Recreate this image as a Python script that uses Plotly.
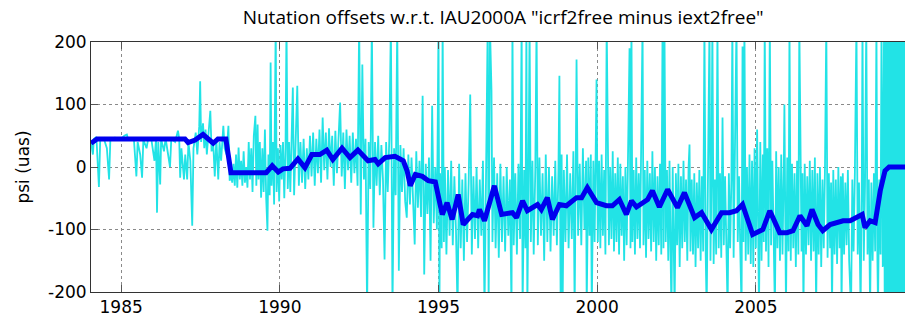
import plotly.graph_objects as go

title_text = 'Nutation offsets w.r.t. IAU2000A "icrf2free minus iext2free"'
y_label = "psi (uas)"
x_ticks = [1985, 1990, 1995, 2000, 2005]
y_ticks = [-200, -100, 0, 100, 200]

# ---- raw session values (cyan), (epoch, psi) ----
cyan_1984_1988 = [
    (1984.05, 40), (1984.08, 30), (1984.11, 20), (1984.14, 45), (1984.22, 48), (1984.30, -32),
    (1984.34, 42), (1984.45, 46), (1984.55, 30), (1984.62, -20), (1984.66, 44), (1984.80, 47),
    (1985.00, 45), (1985.10, 50), (1985.18, 52), (1985.22, 44), (1985.40, 46), (1985.48, -15),
    (1985.52, 40), (1985.60, 20), (1985.66, -17), (1985.70, 44), (1985.80, 30), (1985.84, 42),
    (1985.95, 45), (1986.05, 10), (1986.10, 46), (1986.13, -73), (1986.17, 40), (1986.23, -28),
    (1986.26, 45), (1986.35, 25), (1986.40, 46), (1986.54, 0), (1986.58, 45), (1986.70, 40),
    (1986.79, 58), (1986.83, 45), (1986.86, -17), (1986.90, 30), (1986.98, -20), (1987.02, 20),
    (1987.08, -20), (1987.12, 40), (1987.18, 10), (1987.24, -94), (1987.28, 30), (1987.35, 55),
    (1987.40, 20), (1987.46, 65), (1987.49, 137), (1987.52, 40), (1987.58, 70), (1987.62, 30),
    (1987.66, 60), (1987.70, 20), (1987.75, 55), (1987.81, 90), (1987.85, 25), (1987.90, 40),
    (1987.95, -15), (1988.00, 45), (1988.06, -20), (1988.10, 40), (1988.15, 10), (1988.22, 66),
    (1988.26, 30), (1988.32, 20), (1988.38, 66), (1988.42, -22), (1988.46, -10),
]
cyan_1988_1990 = [
    (1988.50, -25), (1988.54, 5), (1988.58, -30), (1988.62, 20), (1988.66, -33), (1988.70, 31),
    (1988.74, -20), (1988.78, 10), (1988.82, -30), (1988.86, 25), (1988.90, -25), (1988.94, 0),
    (1988.98, -33), (1989.02, 40), (1989.06, -20), (1989.10, 30), (1989.14, -40), (1989.18, 50),
    (1989.23, 82), (1989.26, -30), (1989.30, 68), (1989.33, -20), (1989.37, 40), (1989.41, -49),
    (1989.45, 30), (1989.49, -40), (1989.53, 60), (1989.57, -50), (1989.61, -102), (1989.64, 20),
    (1989.68, -45), (1989.71, 167), (1989.74, -30), (1989.78, 40), (1989.82, -60), (1989.87, 230),
    (1989.90, -40), (1989.94, 30), (1989.98, -55), (1990.02, 35), (1990.06, -20), (1990.10, 40),
    (1990.14, -50), (1990.18, 30), (1990.21, 230), (1990.25, -35), (1990.29, 40), (1990.33, -40),
    (1990.37, 35), (1990.41, 127),
]
cyan_1990_1995 = [
    (1990.45, -45), (1990.50, 35), (1990.55, 130), (1990.60, -30), (1990.65, 40), (1990.70, -25),
    (1990.75, 45), (1990.80, -35), (1990.85, 30), (1990.90, -20), (1990.95, 50), (1991.00, -15),
    (1991.05, 55), (1991.10, -30), (1991.15, 45), (1991.20, -10), (1991.25, 60), (1991.30, -25),
    (1991.35, 79), (1991.40, -5), (1991.45, 55), (1991.50, -20), (1991.55, 62), (1991.60, 0),
    (1991.65, 50), (1991.70, -30), (1991.75, 58), (1991.80, -10), (1991.85, 60), (1991.90, 103),
    (1991.95, -15), (1992.00, 55), (1992.05, -35), (1992.10, 60), (1992.15, -5), (1992.20, 50),
    (1992.25, -25), (1992.30, 55), (1992.35, -10), (1992.40, 45), (1992.45, -30), (1992.50, 230),
    (1992.55, -76), (1992.60, 164), (1992.65, -20), (1992.70, 45), (1992.75, -230), (1992.80, 40),
    (1992.85, -35), (1992.90, 230), (1992.95, -97), (1993.00, 40), (1993.05, -30), (1993.10, 50),
    (1993.15, -45), (1993.20, 35), (1993.25, -20), (1993.30, -148), (1993.35, 40), (1993.40, -40),
    (1993.45, 45), (1993.50, 230), (1993.55, -230), (1993.60, 30), (1993.65, -45), (1993.70, 230),
    (1993.75, -166), (1993.80, 35), (1993.85, -40), (1993.90, 30), (1993.95, -55), (1994.00, -81),
    (1994.05, 20), (1994.10, -60), (1994.15, 15), (1994.20, -70), (1994.25, -124), (1994.30, 25),
    (1994.35, -65), (1994.40, 10), (1994.45, -80), (1994.50, 114), (1994.55, -172), (1994.60, 5),
    (1994.65, -75), (1994.70, 15), (1994.75, -150), (1994.80, 98), (1994.85, -90), (1994.90, 0),
    (1994.95, -100), (1995.00, 230), (1995.03, -230),
]
cyan_1995_2000 = [
    (1995.05, -10), (1995.10, -130), (1995.13, 230), (1995.17, -120), (1995.20, 0), (1995.25, -140),
    (1995.30, -5), (1995.35, -110), (1995.40, 10), (1995.45, -125), (1995.50, -15), (1995.55, -100),
    (1995.60, -230), (1995.65, 5), (1995.70, -130), (1995.75, -20), (1995.80, -150), (1995.85, -10),
    (1995.90, -120), (1995.95, -25), (1996.00, 116), (1996.05, -140), (1996.10, -15), (1996.15, -115),
    (1996.20, 0), (1996.25, -130), (1996.30, -20), (1996.35, -110), (1996.40, 10), (1996.45, -230),
    (1996.50, -5), (1996.55, 230), (1996.58, -230), (1996.62, 230), (1996.67, 122), (1996.70, -120),
    (1996.75, 15), (1996.80, -130), (1996.85, -10), (1996.90, -145), (1996.95, 5), (1997.00, -120),
    (1997.05, -15), (1997.10, -135), (1997.15, 0), (1997.20, -110), (1997.25, -20), (1997.30, -230),
    (1997.33, 230), (1997.37, -125), (1997.42, -10), (1997.47, -140), (1997.52, 5), (1997.57, -115),
    (1997.62, 230), (1997.65, -230), (1997.70, -5), (1997.74, -130), (1997.77, 230), (1997.80, -230),
    (1997.84, 0), (1997.87, 230), (1997.91, -120), (1997.96, 10), (1998.00, -140), (1998.05, -5),
    (1998.09, 230), (1998.13, -125), (1998.18, 15), (1998.23, -110), (1998.28, -10), (1998.33, -150),
    (1998.38, 20), (1998.43, -120), (1998.48, 0), (1998.53, -135), (1998.58, -15), (1998.63, -110),
    (1998.68, 10), (1998.73, -125), (1998.78, -5), (1998.81, 146), (1998.85, -230), (1998.88, 20),
    (1998.91, -230), (1998.95, -5), (1999.00, -120), (1999.05, 20), (1999.10, -130), (1999.15, -10),
    (1999.20, -115), (1999.25, 25), (1999.29, -230), (1999.35, 172), (1999.40, -110), (1999.45, 5),
    (1999.50, -125), (1999.55, 30), (1999.60, -100), (1999.65, 10), (1999.67, -230), (1999.72, 15),
    (1999.76, -110), (1999.80, 20), (1999.83, -230), (1999.88, 10), (1999.92, -120), (1999.95, 0),
    (1999.98, 140),
]
cyan_2000_2005 = [
    (2000.02, -120), (2000.06, 10), (2000.10, -130), (2000.14, 20), (2000.18, -110), (2000.22, -5),
    (2000.26, -140), (2000.30, 230), (2000.33, 76), (2000.37, -125), (2000.41, 0), (2000.45, -115),
    (2000.49, 25), (2000.53, -135), (2000.57, -10), (2000.61, -120), (2000.65, 15), (2000.69, -140),
    (2000.73, 5), (2000.77, -110), (2000.81, -15), (2000.85, -150), (2000.89, 0), (2000.93, -125),
    (2000.97, 10), (2001.02, 190), (2001.05, -130), (2001.08, 230), (2001.11, -120), (2001.15, -5),
    (2001.19, -140), (2001.23, 15), (2001.27, -115), (2001.31, -10), (2001.35, -130), (2001.39, 20),
    (2001.43, 230), (2001.46, -125), (2001.50, -5), (2001.54, -145), (2001.58, 10), (2001.62, -115),
    (2001.66, -10), (2001.70, -135), (2001.74, 25), (2001.78, -120), (2001.82, 0), (2001.86, -150),
    (2001.90, -15), (2001.94, -125), (2001.98, 5), (2002.02, -140), (2002.06, 230), (2002.09, -130),
    (2002.12, 230), (2002.16, -120), (2002.20, -5), (2002.24, -150), (2002.28, 10), (2002.31, -130),
    (2002.34, -230), (2002.38, 0), (2002.41, -140), (2002.44, -230), (2002.48, -10), (2002.52, -125),
    (2002.56, 5), (2002.60, -160), (2002.64, -15), (2002.68, -130), (2002.72, 10), (2002.76, -120),
    (2002.80, -20), (2002.84, -150), (2002.88, 0), (2002.91, 36), (2002.94, -135), (2002.98, -20),
    (2003.02, -140), (2003.06, -10), (2003.10, -160), (2003.14, -25), (2003.18, -130), (2003.22, -5),
    (2003.26, -150), (2003.30, -15), (2003.34, -135), (2003.38, 230), (2003.42, -140), (2003.45, -230),
    (2003.49, -20), (2003.54, 230), (2003.57, -150), (2003.60, -30), (2003.63, 230), (2003.67, -155),
    (2003.71, -20), (2003.75, -140), (2003.79, 230), (2003.83, -130), (2003.87, -10), (2003.91, -145),
    (2003.95, 79), (2003.99, -125), (2004.03, -15), (2004.07, -140), (2004.11, -230), (2004.15, -10),
    (2004.19, -130), (2004.23, -20), (2004.26, 230), (2004.30, -145), (2004.34, -5), (2004.39, 230),
    (2004.43, -120), (2004.47, -15), (2004.51, -135), (2004.55, -230), (2004.58, 193), (2004.61, -120),
    (2004.64, 230), (2004.68, -150), (2004.72, 0), (2004.76, -140), (2004.80, 20), (2004.84, -155),
    (2004.88, 10), (2004.92, -160), (2004.96, 30),
]
cyan_2005_2009 = [
    (2005.00, -130), (2005.04, 60), (2005.08, -140), (2005.10, -230), (2005.14, 40), (2005.18, -150),
    (2005.22, 20), (2005.25, -120), (2005.28, 230), (2005.32, -135), (2005.36, 30), (2005.40, -160),
    (2005.44, 230), (2005.48, -125), (2005.52, 10), (2005.56, -145), (2005.60, -230), (2005.64, 25),
    (2005.68, -130), (2005.72, 0), (2005.76, -150), (2005.80, 20), (2005.84, -140), (2005.88, -5),
    (2005.90, 100), (2005.95, -230), (2005.99, 15), (2006.03, -135), (2006.06, 230), (2006.10, -150),
    (2006.14, 5), (2006.18, -130), (2006.22, -10), (2006.26, -160), (2006.30, 10), (2006.34, -140),
    (2006.37, 230), (2006.40, 76), (2006.44, -135), (2006.47, -10), (2006.50, -230), (2006.54, 5),
    (2006.58, -140), (2006.62, -15), (2006.66, -125), (2006.70, 10), (2006.74, -150), (2006.78, -5),
    (2006.82, -135), (2006.86, 15), (2006.90, -230), (2006.94, -10), (2006.98, -140), (2007.02, 0),
    (2007.06, -160), (2007.10, -20), (2007.14, -130), (2007.18, 5), (2007.22, 230), (2007.26, -145),
    (2007.30, -10), (2007.34, -130), (2007.37, -25), (2007.40, -230), (2007.44, -5), (2007.48, -140),
    (2007.52, -20), (2007.56, -155), (2007.60, 0), (2007.64, -130), (2007.68, -15), (2007.70, -230),
    (2007.74, -10), (2007.78, -140), (2007.82, -25), (2007.86, -125), (2007.90, -5), (2007.94, -150),
    (2008.00, -230), (2008.04, -20), (2008.08, -135), (2008.12, -10), (2008.17, 230), (2008.21, -140),
    (2008.25, -25), (2008.30, -230), (2008.34, -15), (2008.36, 230), (2008.40, -150), (2008.44, -30),
    (2008.48, 230), (2008.52, -140), (2008.56, -20), (2008.60, -230), (2008.64, -25), (2008.68, -150),
    (2008.72, -10), (2008.76, -135), (2008.80, 230), (2008.83, -145), (2008.85, -230), (2008.89, -20),
    (2008.93, -140), (2008.96, 230), (2009.00, -160), (2009.04, 230),
]
cyan_2009_end = [
    (2009.06, -230), (2009.08, 230), (2009.10, -230), (2009.12, 230), (2009.14, -230), (2009.16, 230),
    (2009.18, -230), (2009.20, 230), (2009.22, -230), (2009.24, 230), (2009.26, -230), (2009.28, 230),
    (2009.30, -230), (2009.32, 230), (2009.34, -230), (2009.36, 230), (2009.38, -230), (2009.40, 230),
    (2009.42, -230), (2009.44, 230), (2009.46, -230), (2009.48, 230), (2009.50, -230), (2009.52, 230),
    (2009.54, -230), (2009.56, 230), (2009.58, -230), (2009.60, 230), (2009.62, -230), (2009.64, 230),
    (2009.66, -230), (2009.68, 230), (2009.70, -230), (2009.72, 230),
]

# ---- smoothed series (blue), (epoch, psi) ----
smooth = [
    (1984.05, 38), (1984.24, 45), (1987.01, 45), (1987.11, 39), (1987.33, 43), (1987.58, 52),
    (1987.90, 38), (1988.05, 45), (1988.30, 45), (1988.46, -9), (1989.57, -9), (1989.76, 2),
    (1989.95, -8), (1990.10, -3), (1990.32, -2), (1990.57, 13), (1990.79, -1), (1991.01, 20),
    (1991.26, 20), (1991.48, 27), (1991.67, 12), (1991.96, 30), (1992.21, 15), (1992.46, 27),
    (1992.78, 10), (1993.00, 12), (1993.10, 5), (1993.32, 15), (1993.63, 17), (1993.89, 10),
    (1994.01, -6), (1994.11, -30), (1994.27, -12), (1994.49, -15), (1994.68, -22), (1994.90, -24),
    (1995.05, -60), (1995.12, -76), (1995.27, -57), (1995.43, -84), (1995.62, -44), (1995.78, -92),
    (1996.07, -76), (1996.23, -78), (1996.29, -68), (1996.45, -86), (1996.76, -30), (1996.99, -76),
    (1997.33, -73), (1997.46, -81), (1997.65, -54), (1997.80, -70), (1998.12, -60), (1998.24, -68),
    (1998.43, -49), (1998.59, -84), (1998.81, -60), (1999.03, -62), (1999.35, -49), (1999.51, -49),
    (1999.69, -33), (1999.98, -57), (2000.29, -62), (2000.48, -62), (2000.70, -52), (2000.92, -76),
    (2001.08, -54), (2001.24, -64), (2001.59, -52), (2001.74, -38), (2001.96, -64), (2002.22, -36),
    (2002.53, -65), (2002.75, -41), (2003.07, -81), (2003.29, -73), (2003.60, -100), (2003.92, -73),
    (2004.17, -73), (2004.39, -70), (2004.58, -60), (2004.90, -108), (2005.22, -100), (2005.44, -70),
    (2005.75, -105), (2005.98, -105), (2006.17, -102), (2006.39, -78), (2006.61, -94), (2006.77, -68),
    (2006.96, -92), (2007.11, -102), (2007.34, -92), (2007.75, -86), (2007.97, -86), (2008.19, -81),
    (2008.35, -76), (2008.44, -97), (2008.60, -86), (2008.76, -89), (2008.92, -38), (2009.07, -6),
    (2009.20, 0), (2009.70, 0),
]

cyan = (cyan_1984_1988 + cyan_1988_1990 + cyan_1990_1995 + cyan_1995_2000
        + cyan_2000_2005 + cyan_2005_2009 + cyan_2009_end)
ct, cv = zip(*cyan)
st, sv = zip(*smooth)

fig = go.Figure()
fig.add_trace(go.Scatter(x=ct, y=cv, mode="lines",
                         line=dict(color="#22E3E6", width=1.8), hoverinfo="skip"))
fig.add_trace(go.Scatter(x=st, y=sv, mode="lines",
                         line=dict(color="#0000EE", width=5), hoverinfo="skip"))

axis_font = dict(family="DejaVu Sans", size=17, color="#000000")
fig.update_layout(
    width=905, height=321,
    margin=dict(l=91, r=0, t=42, b=29),
    paper_bgcolor="white", plot_bgcolor="white",
    showlegend=False,
    title=dict(text=title_text, x=0.556, xanchor="center", y=0.945, yanchor="middle",
               font=dict(family="Open Sans", size=19, color="#000000")),
    font=axis_font,
)
fig.update_xaxes(
    range=[1984.05, 2009.70], tickvals=x_ticks, ticktext=[str(v) for v in x_ticks],
    showgrid=True, gridcolor="#8a8a8a", griddash="dot", gridwidth=1,
    zeroline=False, showline=True, linecolor="#333333", linewidth=1, mirror="ticks",
    ticks="inside", ticklen=7, tickcolor="#555555", tickfont=axis_font,
)
fig.update_yaxes(
    range=[-200, 200], tickvals=y_ticks, ticktext=[str(v) for v in y_ticks],
    showgrid=True, gridcolor="#8a8a8a", griddash="dot", gridwidth=1,
    zeroline=False, showline=True, linecolor="#333333", linewidth=1, mirror=False,
    ticks="inside", ticklen=7, tickcolor="#555555", tickfont=axis_font,
    title=dict(text=y_label, font=dict(family="DejaVu Sans", size=17, color="#000000"), standoff=14),
)

fig.write_html("out.html")
